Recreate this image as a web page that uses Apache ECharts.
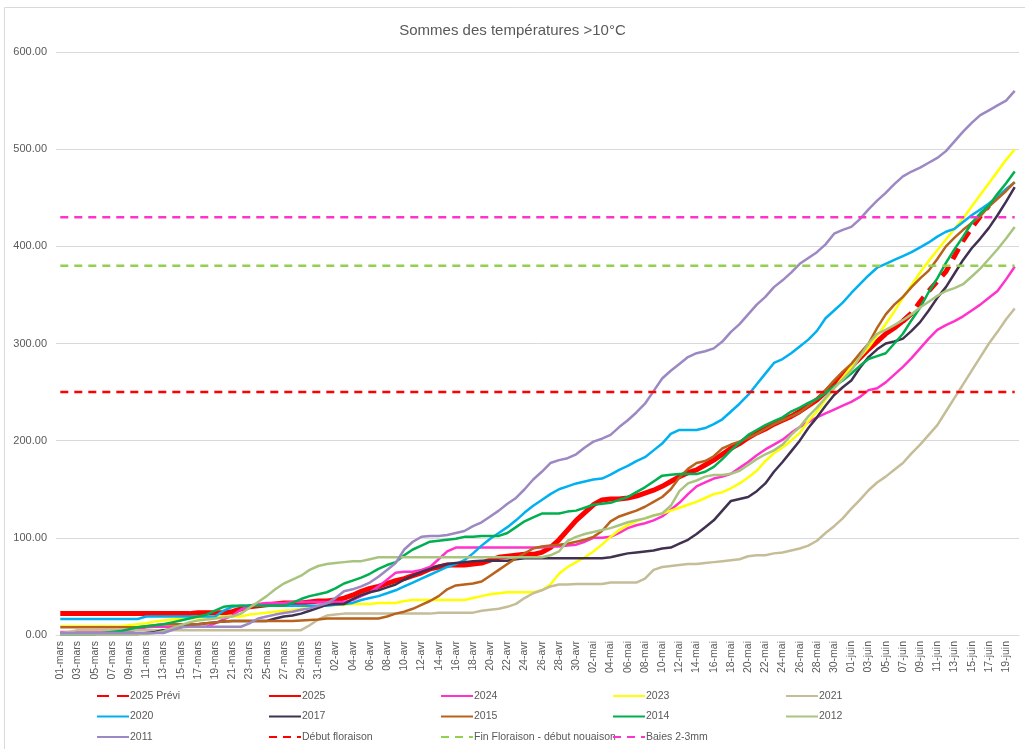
<!DOCTYPE html>
<html>
<head>
    <meta charset="utf-8">
    <title>Sommes des températures</title>
    <script src="https://cdn.jsdelivr.net/npm/echarts@6/dist/echarts.min.js"></script>
    <style>
        html, body { margin: 0; padding: 0; background: #fff; }
        #main { width: 1025px; height: 749px; }
    </style>
</head>
<body>
    <div id="main"></div>
    <script type="text/javascript">
        // day labels 01-mars .. 20-juin
        var months = [['mars', 31], ['avr', 30], ['mai', 31], ['juin', 20]];
        var categories = [];
        months.forEach(function (m) {
            for (var d = 1; d <= m[1]; d++) {
                categories.push((d < 10 ? '0' + d : '' + d) + '-' + m[0]);
            }
        });

        var s2025 = [
            22, 22, 22, 22, 22, 22, 22, 22, 22, 22,
            22, 22, 22, 22, 22, 22, 23, 23, 23, 23,
            24, 27, 29, 30, 31, 32, 33, 33, 33, 34,
            35, 35, 36, 38, 41, 45, 48, 50, 53, 56,
            58, 61, 64, 68, 70, 72, 72, 72, 73, 74,
            77, 80, 81, 82, 83, 83, 85, 90, 98, 108,
            118, 126, 134, 139, 140, 140, 141, 143, 146, 149,
            153, 158, 163, 167, 170, 175, 180, 186, 192, 197,
            203, 208, 212, 217, 221, 225, 230, 236, 242, 250,
            259, 268, 276, 285, 294, 302, 310, 316, 323, 331
        ];
        // forecast starts on day index 98
        var previStart = 98;
        var previ = [323, 331, 343, 354, 364, 374, 390, 406, 419, 431, 442];

        var s2024 = [
            3, 3, 3, 3, 3, 3, 3, 3, 3, 6,
            8, 8.5, 8.5, 8.5, 8.5, 8.5, 8.5, 8.5, 12, 16,
            20, 26, 30, 32, 33, 33, 33, 34, 34, 34,
            34, 34, 34, 34, 36, 40, 44, 50, 57, 64,
            65, 65, 67, 70, 78, 86, 90, 90, 90, 90,
            90, 90, 90, 90, 90, 90, 90, 91, 91, 92,
            93, 96, 100, 100, 101, 105, 110, 113, 115, 118,
            122, 129, 136, 145, 153, 157, 161, 163, 166, 172,
            178, 185, 191, 196, 201, 208, 214, 219, 224, 228,
            232, 236, 240, 245, 252, 254, 260, 268, 276, 285,
            295, 305, 314, 319, 323, 328, 334, 340, 347, 354, 366, 379
        ];
        var s2023 = [
            9, 9, 9, 9, 9, 9, 9, 9, 10, 11,
            12, 14, 15, 16, 17, 17, 18, 18, 19, 19,
            19, 19, 21, 22, 23, 24, 25, 25.5, 27, 29,
            30, 31, 31, 31, 32, 32, 32, 33, 33, 33,
            35, 36, 36, 36, 36, 36, 36, 36, 38, 40,
            42, 43, 44, 44, 44, 44, 46, 52, 63, 70,
            75, 80, 86, 93, 101, 108, 113, 117, 120, 123,
            125, 128, 131, 134, 137, 141, 145, 147, 151, 156,
            162, 169, 179, 187, 193, 200, 208, 220, 230, 242,
            254, 265, 276, 286, 296, 308, 320, 333, 347, 360,
            373, 385, 396, 407, 418, 429, 441, 453, 465, 477, 489, 500
        ];
        var s2021 = [
            2, 3, 5, 5, 5, 5, 5, 5, 5, 5,
            5, 5, 5, 5, 5, 5, 5, 5, 5, 5,
            5, 5, 5, 5, 5, 5, 5, 5, 5, 10,
            16, 20, 21, 22, 22, 22, 22, 22, 22, 22,
            22, 22, 22, 22, 23, 23, 23, 23, 23, 25,
            26, 27, 29, 32, 38, 43, 46, 50, 52, 52,
            52.5, 52.5, 52.5, 52.5, 54, 54, 54, 54, 58, 67,
            70, 71, 72, 73, 73, 74, 75, 76, 77, 78,
            81, 82, 82, 84, 85, 87, 89, 92, 97, 105,
            112, 120, 130, 139, 149, 157, 163, 170, 177, 187,
            196, 206, 216, 230, 244, 258, 272, 286, 300, 312, 325, 336
        ];
        var s2020 = [
            16.5, 16.5, 16.5, 16.5, 16.5, 16.5, 16.5, 16.5, 16.5, 16.5,
            19, 19, 19, 19, 19, 19, 19, 19, 19, 25,
            29, 30, 30, 30, 30, 30, 30, 30, 30, 30,
            30, 30, 31, 32, 33, 36, 38, 40, 43, 46,
            50, 54, 58, 62, 66, 70, 73, 77, 84, 92,
            99, 105, 111, 118, 126, 133, 139, 145, 150, 153,
            156, 158, 160, 161, 165, 170, 174, 179, 183, 190,
            197, 207, 211, 211, 211, 213, 217, 222, 230, 238,
            247, 258, 269, 280, 284, 290, 297, 304, 313, 326,
            334, 342, 352, 361, 370, 378, 382, 386, 390, 394,
            399, 404, 410, 415, 418, 425, 432, 438, 444, 451, 459, 466
        ];
        var s2017 = [
            1, 1, 1, 1, 1, 1, 1, 1, 1, 1,
            2, 3, 5, 6, 8, 10, 11, 12, 13, 14,
            14.5, 14.5, 14.5, 14.5, 14.5, 17, 19, 20, 22, 25,
            28, 31, 32, 32, 37, 41, 44, 46, 49, 52,
            57, 61, 65, 68, 71, 73, 74, 75, 76, 76.5,
            76.5, 76.5, 76.5, 78, 79, 79, 79, 79, 79, 79,
            79, 79, 79, 79, 80, 82, 84, 85, 86, 87,
            89, 90, 94, 98, 104, 111, 118, 128, 138, 140,
            142, 148, 156, 168, 178, 189, 200, 213, 224, 236,
            247, 255, 262, 275, 286, 294, 300, 302, 305, 313,
            322, 334, 347, 358, 372, 386, 398, 408, 419, 432, 446, 461
        ];
        var s2015 = [
            8, 8, 8, 8, 8, 8, 8, 8, 8, 8,
            9, 10, 11, 11, 11, 11, 11, 12, 13, 14,
            14.5, 14.5, 14.5, 14.5, 14.5, 14.5, 14.5, 14.5, 15, 15.5,
            16, 17, 17, 17, 17, 17, 17, 17, 19, 22,
            24, 27, 31, 35, 40, 47, 51, 52, 53, 55,
            61, 67, 73, 79, 84, 89, 91, 92, 93, 94,
            96, 98, 101, 107, 117, 122, 125, 128, 132, 137,
            142, 150, 162, 171, 177, 179, 184, 192, 196, 199,
            203, 207, 212, 217, 221, 225, 229, 236, 243, 252,
            262, 271, 279, 290, 300, 316, 330, 340, 348, 358,
            367, 375, 387, 400, 409, 417, 424, 431, 441, 449, 457, 466
        ];
        var s2014 = [
            1, 1, 1, 1, 1, 2, 3, 4, 6, 8,
            9, 10, 11, 13, 15, 17, 19, 21, 25, 29,
            30, 30, 30, 30, 30, 30, 30, 33, 37, 40,
            42, 44, 48, 53, 56, 59, 63, 68, 72, 75,
            82, 88, 92, 96, 97, 98, 99, 101, 101, 102,
            102, 102, 105, 111, 117, 121, 125, 125, 125, 127,
            128, 131, 134, 135, 136, 139, 142, 147, 152, 158,
            164, 165, 165.6, 165.6, 165.6, 168, 173, 181, 190, 198,
            206, 211, 216, 220, 224, 230, 234, 239, 243, 249,
            256, 262, 269, 277, 284, 287, 290, 300, 310, 324,
            337, 353, 367, 383, 397, 410, 424, 434, 442, 454, 465, 477
        ];
        var s2012 = [
            1, 1, 1, 1, 1, 1, 1, 1, 1, 1,
            1, 2, 4, 7, 10, 13, 15, 16, 17, 18,
            19, 22, 28, 34, 40, 47, 53, 57, 61, 67,
            71, 73, 74, 75, 76, 76, 78, 80, 80, 80,
            80, 80, 80, 80, 80, 80, 80, 80, 80, 80,
            80, 80, 80, 80, 80, 80, 80, 82, 86, 97,
            101, 104, 106, 108, 110, 113, 116, 118, 120, 123,
            125, 133, 148, 156, 159, 163, 164.6, 164.6, 166, 169,
            175, 181, 186, 190, 196, 206, 214, 225, 234, 244,
            254, 263, 272, 286, 300, 310, 314, 319, 324, 330,
            337, 343, 349, 354, 357, 361, 369, 377, 387, 397, 408, 420
        ];
        var s2011 = [
            2, 2, 2, 2, 2, 2, 2, 2, 2, 2,
            2, 2, 2, 5, 8, 8.5, 8.5, 8.5, 8.5, 8.5,
            8.5, 8.5, 12, 17, 19, 21, 22.6, 24, 26, 27.4,
            30, 32.6, 38, 45, 47, 50, 54, 60, 67, 74,
            88, 96, 101, 102, 102, 103, 105, 107, 112, 116,
            122, 128, 135, 141, 150, 160, 168, 177, 180, 182,
            186, 193, 199, 202, 206, 214, 221, 229, 238, 251,
            264, 272, 279, 286, 290, 292, 295, 302, 312, 320,
            330, 340, 348, 358, 365, 373, 382, 388, 394, 402,
            413, 417, 420, 428, 438, 447, 455, 464, 472, 477,
            481, 486, 491, 498, 508, 518, 527, 535, 540, 545, 550, 560
        ];

        // stage thresholds
        var debutFloraison = 250;
        var finFloraison = 380;
        var baies = 430;

        var previData = categories.map(function (c, i) {
            return i < previStart ? null : previ[i - previStart];
        });
        var flat = function (v) {
            return categories.map(function () { return v; });
        };

        var font = 'Liberation Sans, Arial, sans-serif';

        var line = function (name, data, color, width, dash) {
            return {
                name: name,
                type: 'line',
                data: data,
                symbol: 'none',
                smooth: false,
                connectNulls: false,
                lineStyle: { color: color, width: width, type: dash || 'solid', cap: 'butt' },
                itemStyle: { color: color },
                emphasis: { disabled: true },
                animation: false
            };
        };

        var series = [
            line('2025 Prévi', previData, '#FF0000', 5, [12, 8]),
            line('2025', s2025, '#FF0000', 5),
            line('2024', s2024, '#FF33CC', 2.5),
            line('2023', s2023, '#FFFF00', 2.5),
            line('2021', s2021, '#C4BD97', 2.5),
            line('2020', s2020, '#00B0F0', 2.5),
            line('2017', s2017, '#403151', 2.5),
            line('2015', s2015, '#B8621B', 2.5),
            line('2014', s2014, '#00B050', 2.5),
            line('2012', s2012, '#A9C47F', 2.5),
            line('2011', s2011, '#9C88C2', 2.5),
            line('Début floraison', flat(debutFloraison), '#FF0000', 2.5, [8, 6]),
            line('Fin Floraison - début nouaison', flat(finFloraison), '#92D050', 2.5, [8, 6]),
            line('Baies 2-3mm', flat(baies), '#FF33CC', 2.5, [8, 6])
        ];

        var legendCols = [
            ['2025 Prévi', '2020', '2011'],
            ['2025', '2017', 'Début floraison'],
            ['2024', '2015', 'Fin Floraison - début nouaison'],
            ['2023', '2014', 'Baies 2-3mm'],
            ['2021', '2012']
        ];
        var colX = [96, 268, 440, 612, 785];
        var legends = legendCols.map(function (names, k) {
            return {
                orient: 'vertical',
                left: colX[k],
                top: 689,
                data: names,
                itemWidth: 32,
                itemHeight: 4,
                itemGap: 6.5,
                padding: 0,
                selectedMode: false,
                itemStyle: { opacity: 0 },
                textStyle: { color: '#595959', fontSize: 10.5, fontFamily: font, lineHeight: 14, padding: [0, 0, 0, -4] }
            };
        });

        var myChart = echarts.init(document.getElementById('main'));
        var option = {
            backgroundColor: '#ffffff',
            animation: false,
            title: {
                text: 'Sommes des températures >10°C',
                left: 'center',
                top: 18,
                textStyle: { color: '#595959', fontSize: 15, fontWeight: 'normal', fontFamily: font }
            },
            graphic: [{
                type: 'rect',
                shape: { x: 4.5, y: 7.5, width: 1030, height: 760 },
                style: { fill: 'none', stroke: '#d9d9d9', lineWidth: 1 },
                silent: true
            }],
            legend: legends,
            grid: { left: 56, right: 6, top: 52, bottom: 114, containLabel: false },
            xAxis: {
                type: 'category',
                data: categories,
                boundaryGap: true,
                axisLine: { lineStyle: { color: '#d9d9d9', width: 1 } },
                axisTick: { interval: 1, length: 5, lineStyle: { color: '#d9d9d9' } },
                axisLabel: { interval: 1, rotate: 90, color: '#595959', fontSize: 10.5, fontFamily: font, margin: 6 },
                splitLine: { show: false }
            },
            yAxis: {
                type: 'value',
                min: 0,
                max: 600,
                interval: 100,
                axisLine: { show: false },
                axisTick: { show: false },
                axisLabel: {
                    color: '#595959', fontSize: 11, fontFamily: font, margin: 9,
                    formatter: function (v) { return v.toFixed(2); }
                },
                splitLine: { lineStyle: { color: '#d9d9d9', width: 1 } }
            },
            series: series
        };
        myChart.setOption(option);
    </script>
</body>
</html>
